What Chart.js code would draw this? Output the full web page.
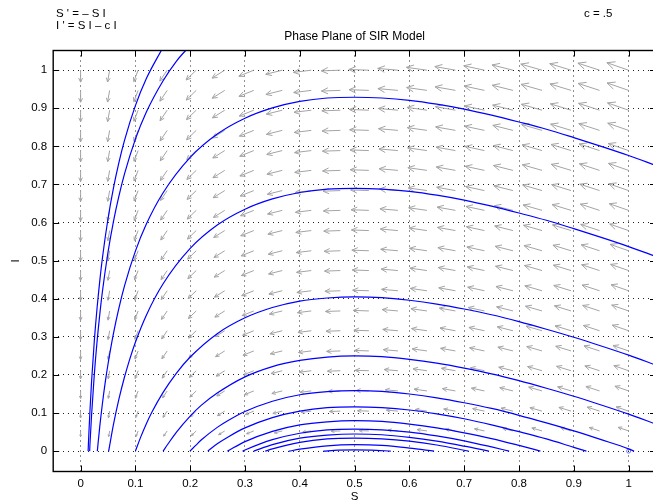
<!DOCTYPE html>
<html>
<head>
<meta charset="utf-8">
<script src="https://cdn.jsdelivr.net/npm/chart.js@4.4.1/dist/chart.umd.min.js"></script>
<style>
  html, body { margin: 0; padding: 0; overflow: hidden; background: #fff; }
  canvas { display: block; }
</style>
</head>
<body>
<canvas id="phase-chart" width="661" height="504"></canvas>
<script>
// axis ticks
const sTicks = [0, 0.1, 0.2, 0.3, 0.4, 0.5, 0.6, 0.7, 0.8, 0.9, 1];
const sTickLabels = ['0', '0.1', '0.2', '0.3', '0.4', '0.5', '0.6', '0.7', '0.8', '0.9', '1'];
const iTicks = [0, 0.1, 0.2, 0.3, 0.4, 0.5, 0.6, 0.7, 0.8, 0.9, 1];
const iTickLabels = ['0', '0.1', '0.2', '0.3', '0.4', '0.5', '0.6', '0.7', '0.8', '0.9', '1'];

// direction field
const fieldS = [0, 0.053, 0.105, 0.158, 0.211, 0.263, 0.316, 0.368, 0.421, 0.474,
                0.526, 0.579, 0.632, 0.684, 0.737, 0.789, 0.842, 0.895, 0.947, 1];
const fieldI = [0.053, 0.105, 0.158, 0.211, 0.263, 0.316, 0.368, 0.421, 0.474, 0.526,
                0.579, 0.632, 0.684, 0.737, 0.789, 0.842, 0.895, 0.947, 1];
// arrow heading per column (degrees, counter-clockwise from +S)
const fieldAngle = [270, 260, 249, 236, 224, 212, 202, 194, 187, 182,
                    178, 175, 172, 170, 168, 166, 164, 163, 162, 161];
// relative arrow size per column / per row
const fieldColMag = [0.52, 0.52, 0.53, 0.57, 0.61, 0.65, 0.7, 0.74, 0.78, 0.83,
                     0.87, 0.88, 0.9, 0.91, 0.92, 0.94, 0.96, 0.97, 0.99, 1];
const fieldRowMag = [0.48, 0.57, 0.63, 0.68, 0.72, 0.75, 0.78, 0.81, 0.83, 0.85,
                     0.87, 0.89, 0.91, 0.93, 0.94, 0.96, 0.97, 0.99, 1];

// solution curves [S, I]
const orbitA = [[0.0137, 0], [0.014, 0.01], [0.015, 0.043], [0.017, 0.104], [0.02, 0.182], [0.025, 0.289],
  [0.03, 0.375], [0.035, 0.447], [0.04, 0.509], [0.05, 0.61], [0.06, 0.691], [0.07, 0.758],
  [0.08, 0.815], [0.1, 0.907], [0.12, 0.978], [0.15, 1.059]];
const orbitB = [[0.0165, 0], [0.017, 0.016], [0.02, 0.094], [0.025, 0.201], [0.03, 0.287], [0.035, 0.359],
  [0.04, 0.421], [0.05, 0.522], [0.06, 0.603], [0.07, 0.67], [0.08, 0.727], [0.1, 0.819],
  [0.12, 0.89], [0.15, 0.971], [0.175, 1.024], [0.2, 1.065]];
const orbitC = [[0.0305, 0], [0.035, 0.065], [0.04, 0.127], [0.045, 0.181], [0.05, 0.228], [0.06, 0.309],
  [0.07, 0.376], [0.08, 0.433], [0.1, 0.525], [0.12, 0.596], [0.15, 0.677], [0.2, 0.771],
  [0.25, 0.833], [0.3, 0.874], [0.35, 0.901], [0.4, 0.918], [0.45, 0.927], [0.5, 0.929],
  [0.55, 0.927], [0.6, 0.921], [0.65, 0.911], [0.7, 0.898], [0.75, 0.882], [0.8, 0.864],
  [0.85, 0.845], [0.9, 0.823], [0.95, 0.8], [1.0, 0.776], [1.05, 0.75]];
const orbitD = [[0.0512, 0], [0.06, 0.07], [0.07, 0.137], [0.08, 0.194], [0.09, 0.243], [0.1, 0.286],
  [0.12, 0.357], [0.15, 0.438], [0.2, 0.532], [0.25, 0.594], [0.3, 0.635], [0.35, 0.662],
  [0.4, 0.679], [0.45, 0.688], [0.5, 0.69], [0.55, 0.688], [0.6, 0.682], [0.65, 0.672],
  [0.7, 0.659], [0.75, 0.643], [0.8, 0.625], [0.85, 0.606], [0.9, 0.584], [0.95, 0.561],
  [1.0, 0.537], [1.05, 0.511]];
const orbitE = [[0.1, 0], [0.11, 0.038], [0.12, 0.072], [0.13, 0.102], [0.15, 0.153], [0.175, 0.205],
  [0.2, 0.247], [0.25, 0.309], [0.3, 0.35], [0.35, 0.377], [0.4, 0.394], [0.45, 0.402],
  [0.5, 0.405], [0.55, 0.403], [0.6, 0.396], [0.65, 0.386], [0.7, 0.373], [0.75, 0.358],
  [0.8, 0.34], [0.85, 0.32], [0.9, 0.299], [0.95, 0.276], [1.0, 0.252], [1.05, 0.226]];
const orbitF = [[0.1505, 0], [0.16, 0.02], [0.175, 0.05], [0.2, 0.092], [0.22, 0.12], [0.25, 0.153],
  [0.3, 0.195], [0.35, 0.222], [0.4, 0.238], [0.45, 0.247], [0.5, 0.25], [0.55, 0.248],
  [0.6, 0.241], [0.65, 0.231], [0.7, 0.218], [0.75, 0.203], [0.8, 0.185], [0.85, 0.165],
  [0.9, 0.144], [0.95, 0.121], [1.0, 0.097], [1.05, 0.071]];
const orbitG = [[0.1995, 0], [0.21, 0.015], [0.22, 0.029], [0.25, 0.063], [0.27, 0.081], [0.3, 0.104],
  [0.35, 0.131], [0.4, 0.148], [0.45, 0.156], [0.5, 0.159], [0.55, 0.157], [0.6, 0.15],
  [0.65, 0.14], [0.7, 0.127], [0.75, 0.112], [0.8, 0.094], [0.85, 0.074], [0.9, 0.053],
  [0.95, 0.03], [1.0, 0.006], [1.01, 0]];
const orbitH = [[0.232, 0], [0.25, 0.02], [0.27, 0.038], [0.3, 0.061], [0.35, 0.088], [0.4, 0.105],
  [0.45, 0.114], [0.5, 0.116], [0.55, 0.114], [0.6, 0.108], [0.65, 0.098], [0.7, 0.085],
  [0.75, 0.069], [0.8, 0.051], [0.85, 0.032], [0.9, 0.01], [0.923, 0]];
const orbitJ = [[0.268, 0], [0.3, 0.025], [0.35, 0.052], [0.4, 0.069], [0.45, 0.077], [0.5, 0.08],
  [0.55, 0.078], [0.6, 0.071], [0.65, 0.061], [0.7, 0.048], [0.75, 0.033], [0.8, 0.015], [0.839, 0]];
const orbitK = [[0.2955, 0], [0.3, 0.003], [0.35, 0.03], [0.4, 0.047], [0.45, 0.056], [0.5, 0.058],
  [0.55, 0.056], [0.6, 0.05], [0.65, 0.04], [0.7, 0.027], [0.75, 0.011], [0.782, 0]];
const orbitL = [[0.316, 0], [0.35, 0.017], [0.4, 0.034], [0.45, 0.042], [0.5, 0.045], [0.55, 0.043],
  [0.6, 0.036], [0.65, 0.026], [0.7, 0.013], [0.745, 0]];
const orbitM = [[0.337, 0], [0.35, 0.006], [0.4, 0.023], [0.45, 0.032], [0.5, 0.034], [0.55, 0.032],
  [0.6, 0.026], [0.65, 0.016], [0.708, 0]];
const orbitN = [[0.38, 0], [0.4, 0.005], [0.45, 0.014], [0.5, 0.017], [0.55, 0.015], [0.6, 0.008], [0.645, 0]];
const orbitP = [[0.443, 0], [0.47, 0.0025], [0.5, 0.0034], [0.53, 0.0026], [0.566, 0]];
const orbits = [orbitA, orbitB, orbitC, orbitD, orbitE, orbitF, orbitG, orbitH, orbitJ, orbitK, orbitL, orbitM, orbitN, orbitP];
const startPoint = [1.0, 0];

const FONT = '"Liberation Sans", Arial, Helvetica, sans-serif';
const ARROW_PX = 23;

// grey quiver arrows under the curves
const fieldArrows = {
    id: 'fieldArrows',
    beforeDatasetsDraw(chart) {
        const {ctx, scales: {x, y}} = chart;
        ctx.save();
        ctx.strokeStyle = '#a4a4a4';
        ctx.lineWidth = 1;
        fieldS.forEach((s, k) => {
            const a = fieldAngle[k] * Math.PI / 180;
            fieldI.forEach((i, j) => {
                const len = ARROW_PX * fieldColMag[k] * fieldRowMag[j];
                const x0 = x.getPixelForValue(s), y0 = y.getPixelForValue(i);
                const x1 = x0 + len * Math.cos(a), y1 = y0 - len * Math.sin(a);
                const h = len * 0.38, w = 25 * Math.PI / 180;
                ctx.beginPath();
                ctx.moveTo(x0, y0);
                ctx.lineTo(x1, y1);
                ctx.moveTo(x1 - h * Math.cos(a - w), y1 + h * Math.sin(a - w));
                ctx.lineTo(x1, y1);
                ctx.lineTo(x1 - h * Math.cos(a + w), y1 + h * Math.sin(a + w));
                ctx.stroke();
            });
        });
        ctx.restore();
    }
};

// box, inward ticks and the texts round the plot
const frame = {
    id: 'frame',
    afterDraw(chart) {
        const {ctx, chartArea: {left, right, top, bottom}, scales: {x, y}} = chart;
        ctx.save();
        ctx.strokeStyle = '#000';
        ctx.lineWidth = 1;
        ctx.beginPath();
        sTicks.forEach(v => {
            const px = Math.round(x.getPixelForValue(v)) + 0.5;
            ctx.moveTo(px, bottom); ctx.lineTo(px, bottom - 6);
            ctx.moveTo(px, top); ctx.lineTo(px, top + 6);
        });
        iTicks.forEach(v => {
            const py = Math.round(y.getPixelForValue(v)) + 0.5;
            ctx.moveTo(left, py); ctx.lineTo(left + 6, py);
            ctx.moveTo(right, py); ctx.lineTo(right - 6, py);
        });
        ctx.stroke();
        ctx.lineWidth = 1.4;
        ctx.strokeRect(left, top, right - left, bottom - top);

        ctx.fillStyle = '#000';
        ctx.font = '11.5px ' + FONT;
        ctx.textBaseline = 'middle';
        ctx.textAlign = 'left';
        ctx.fillText("S ' = \u2013 S I", 56, 14);
        ctx.fillText("I ' = S I \u2013 c I", 56, 26);
        ctx.fillText('c = .5', 584, 14);
        ctx.textAlign = 'center';
        ctx.font = '12px ' + FONT;
        ctx.fillText('Phase Plane of SIR Model', (left + right) / 2, 37);
        ctx.font = '11.5px ' + FONT;
        ctx.fillText('S', (left + right) / 2, 497);
        ctx.translate(16, (top + bottom) / 2);
        ctx.rotate(-Math.PI / 2);
        ctx.fillText('I', 0, 0);
        ctx.restore();
    }
};

const datasets = orbits.map(o => ({
    data: o.map(p => ({x: p[0], y: p[1]})),
    showLine: true,
    borderColor: '#0000ff',
    borderWidth: 1.2,
    pointRadius: 0,
    cubicInterpolationMode: 'monotone',
    fill: false
}));
datasets.push({
    data: [{x: startPoint[0], y: startPoint[1]}],
    showLine: false,
    pointRadius: 2,
    pointBorderColor: '#6f6fff',
    pointBackgroundColor: 'rgba(0,0,0,0)',
    pointBorderWidth: 1
});

new Chart(document.getElementById('phase-chart').getContext('2d'), {
    type: 'scatter',
    data: {datasets: datasets},
    options: {
        responsive: false,
        animation: false,
        events: [],
        layout: {padding: {top: 50.5, right: 1.2, left: 0, bottom: 0}},
        plugins: {legend: {display: false}, tooltip: {enabled: false}, title: {display: false}},
        scales: {
            x: {
                type: 'linear', min: -0.05, max: 1.05,
                afterBuildTicks: axis => { axis.ticks = sTicks.map(v => ({value: v})); },
                afterFit: axis => { axis.height = 32.5; },
                grid: {color: '#222', lineWidth: 1, drawTicks: false},
                border: {display: false, dash: [1, 4]},
                ticks: {
                    padding: 5, color: '#000', font: {family: FONT, size: 11.5},
                    maxRotation: 0, autoSkip: false,
                    callback: (v, idx) => sTickLabels[idx]
                }
            },
            y: {
                type: 'linear', min: -0.0535, max: 1.0517,
                afterBuildTicks: axis => { axis.ticks = iTicks.map(v => ({value: v})); },
                afterFit: axis => { axis.width = 53.2; },
                grid: {color: '#222', lineWidth: 1, drawTicks: false},
                border: {display: false, dash: [1, 4]},
                ticks: {
                    padding: 6, color: '#000', font: {family: FONT, size: 11.5},
                    autoSkip: false,
                    callback: (v, idx) => iTickLabels[idx]
                }
            }
        }
    },
    plugins: [fieldArrows, frame]
});
</script>
</body>
</html>
